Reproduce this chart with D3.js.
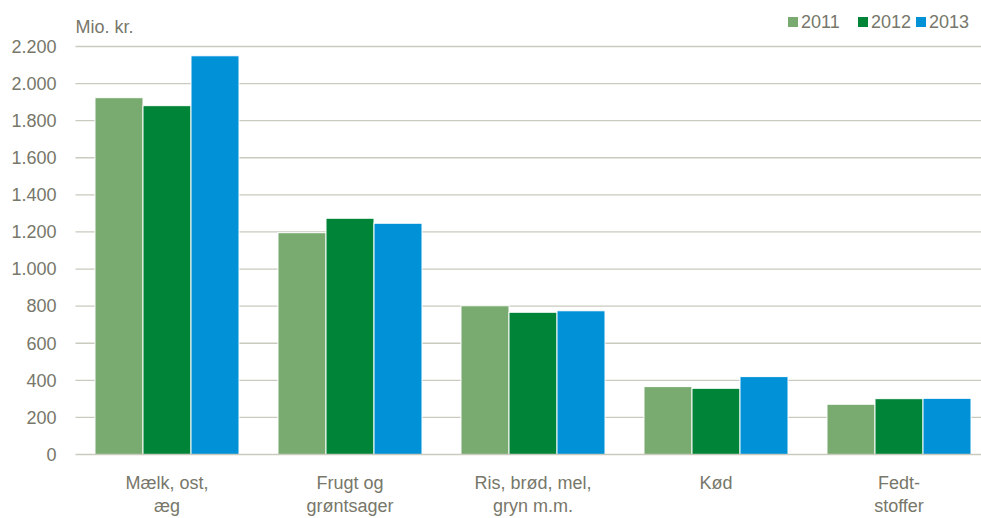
<!DOCTYPE html>
<html>
<head>
<meta charset="utf-8">
<script src="https://cdn.jsdelivr.net/npm/d3@7"></script>
<style>
  body { margin: 0; background: #fff; }
  text { font-family: "Liberation Sans Narrow", "Arial Narrow", "Liberation Sans", sans-serif; fill: #77776a; }
</style>
</head>
<body>
<div id="chart"></div>
<script>
// values, Mio. kr.
var categories = [["Mælk, ost,", "æg"], ["Frugt og", "grøntsager"], ["Ris, brød, mel,", "gryn m.m."], ["Kød"], ["Fedt-", "stoffer"]];
var years = ["2011", "2012", "2013"];
var v2011 = [1924, 1196, 802, 366, 271];
var v2012 = [1881, 1274, 767, 357, 301];
var v2013 = [2150, 1247, 775, 420, 303];
var yTicks = [0, 200, 400, 600, 800, 1000, 1200, 1400, 1600, 1800, 2000, 2200];
var colors = ["#79aa70", "#008438", "#0091d7"];

var svgWidth = 981, svgHeight = 518;
var margin = {top: 46.5, right: -9.5, bottom: 63.5, left: 75.5};
var width = svgWidth - margin.left - margin.right,
    height = svgHeight - margin.top - margin.bottom;

var series = [v2011, v2012, v2013];

var svg = d3.select('#chart').append('svg')
  .attr('width', svgWidth)
  .attr('height', svgHeight);
var g = svg.append('g')
  .attr('transform', 'translate(' + margin.left + ',' + margin.top + ')');

var x0 = d3.scaleBand()
  .domain(d3.range(categories.length))
  .range([0, width])
  .paddingInner(0.213)
  .paddingOuter(0.1065);
var x1 = d3.scaleBand()
  .domain(years)
  .range([0, x0.bandwidth()]);
var y = d3.scaleLinear()
  .domain([0, 2200])
  .range([height, 0]);

// gridlines
g.append('g').selectAll('line')
  .data(yTicks.slice(1))
  .enter().append('line')
  .attr('x1', 0).attr('x2', width)
  .attr('y1', function(d) { return y(d); })
  .attr('y2', function(d) { return y(d); })
  .attr('stroke', '#cacabf')
  .attr('stroke-width', 1.3);

// y labels
g.append('g').selectAll('text')
  .data(yTicks)
  .enter().append('text')
  .attr('x', -19)
  .attr('y', function(d) { return y(d); })
  .attr('dy', '0.35em')
  .attr('text-anchor', 'end')
  .style('font-size', '18px')
  .text(function(d) { return d3.format(',')(d).replace(/,/g, '.'); });

// bars
var groups = g.selectAll('.grp')
  .data(categories)
  .enter().append('g')
  .attr('class', 'grp')
  .attr('transform', function(d, i) { return 'translate(' + x0(i) + ',0)'; });

groups.selectAll('rect')
  .data(function(d, i) { return series.map(function(s, k) { return {year: years[k], k: k, v: s[i]}; }); })
  .enter().append('rect')
  .attr('x', function(d) { return x1(d.year); })
  .attr('y', function(d) { return y(d.v); })
  .attr('width', x1.bandwidth())
  .attr('height', function(d) { return height - y(d.v); })
  .attr('fill', function(d) { return colors[d.k]; })
  .attr('stroke', '#ffffff')
  .attr('stroke-width', 1);

// x axis line
g.append('line')
  .attr('x1', 0).attr('x2', width)
  .attr('y1', height).attr('y2', height)
  .attr('stroke', '#cacabf')
  .attr('stroke-width', 1.5);

// category labels
groups.append('text')
  .attr('text-anchor', 'middle')
  .attr('transform', 'translate(' + x0.bandwidth() / 2 + ',' + (height + 34) + ')')
  .style('font-size', '18px')
  .selectAll('tspan')
  .data(function(d) { return d; })
  .enter().append('tspan')
  .attr('x', 0)
  .attr('dy', function(d, i) { return i ? 23 : 0; })
  .text(function(d) { return d; });

// unit label
svg.append('text')
  .attr('x', margin.left)
  .attr('y', 33)
  .style('font-size', '18px')
  .text('Mio. kr.');

// legend
var legendX = [788, 858, 916];
var legend = svg.append('g').selectAll('g')
  .data(years)
  .enter().append('g')
  .attr('transform', function(d, i) { return 'translate(' + legendX[i] + ',17)'; });
legend.append('rect')
  .attr('width', 10).attr('height', 10)
  .attr('fill', function(d, i) { return colors[i]; });
legend.append('text')
  .attr('x', 13)
  .attr('y', 5)
  .attr('dy', '0.35em')
  .style('font-size', '18px')
  .text(function(d) { return d; });
</script>
</body>
</html>
